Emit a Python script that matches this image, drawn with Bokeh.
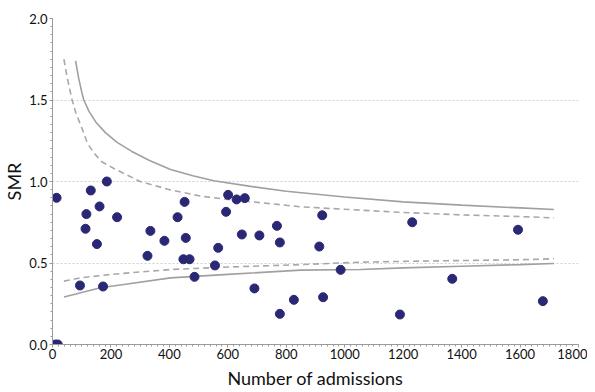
from bokeh.plotting import figure
from bokeh.models import FixedTicker, PrintfTickFormatter, Range1d, ColumnDataSource
from bokeh.embed import file_html
from bokeh.resources import INLINE

# ---- data ----
admissions = [10, 18, 14, 116, 113, 131, 186, 161, 152, 221, 94, 173, 325, 335, 383,
              428, 452, 456, 448, 469, 486, 556, 567, 594, 601, 630, 658, 648, 708,
              691, 768, 778, 778, 826, 923, 913, 926, 986, 1189, 1231, 1368, 1593, 1678]
smr = [0.0, 0.0, 0.90, 0.80, 0.71, 0.945, 1.0, 0.847, 0.616, 0.781, 0.362, 0.356, 0.544,
       0.697, 0.636, 0.781, 0.875, 0.654, 0.523, 0.523, 0.415, 0.485, 0.593, 0.814,
       0.918, 0.89, 0.898, 0.675, 0.669, 0.344, 0.728, 0.626, 0.188, 0.274, 0.793,
       0.601, 0.29, 0.458, 0.184, 0.75, 0.403, 0.704, 0.266]

# 99.8% limits (solid)
upper_998_x = [79, 90, 100, 107, 125, 150, 181, 221, 270, 330, 404, 480, 552, 678, 800,
               1000, 1200, 1400, 1600, 1716]
upper_998_y = [1.74, 1.63, 1.55, 1.50, 1.43, 1.36, 1.30, 1.24, 1.186, 1.13, 1.074, 1.035,
               1.005, 0.97, 0.94, 0.905, 0.875, 0.855, 0.838, 0.828]
lower_998_x = [39, 80, 164, 250, 404, 600, 849, 1054, 1200, 1400, 1600, 1716]
lower_998_y = [0.292, 0.31, 0.348, 0.37, 0.409, 0.43, 0.456, 0.46, 0.47, 0.48, 0.49, 0.497]

# 95% limits (dashed)
upper_95_x = [39, 50, 67, 80, 100, 119, 141, 170, 210, 300, 400, 507, 600, 849, 1054,
              1200, 1400, 1600, 1716]
upper_95_y = [1.75, 1.64, 1.50, 1.42, 1.33, 1.237, 1.176, 1.12, 1.08, 1.00, 0.95, 0.91,
              0.89, 0.845, 0.824, 0.81, 0.795, 0.785, 0.777]
lower_95_x = [39, 100, 200, 300, 404, 600, 849, 1054, 1200, 1400, 1600, 1716]
lower_95_y = [0.389, 0.41, 0.43, 0.445, 0.46, 0.475, 0.49, 0.505, 0.51, 0.515, 0.52, 0.526]

x_ticks = [0, 200, 400, 600, 800, 1000, 1200, 1400, 1600, 1800]
y_ticks = [0.0, 0.5, 1.0, 1.5, 2.0]
grid_lines = [0.5, 1.0, 1.5]

FONT = "Lato"

p = figure(frame_width=526, frame_height=326, output_backend="svg", toolbar_location=None,
           x_range=Range1d(0, 1800), y_range=Range1d(0, 2.0),
           min_border_left=44, min_border_right=9, min_border_top=18, min_border_bottom=39)
p.outline_line_color = None
p.background_fill_color = "white"

# limits
p.line(upper_998_x, upper_998_y, line_color="#a0a0a0", line_width=1.6)
p.line(lower_998_x, lower_998_y, line_color="#a0a0a0", line_width=1.6)
p.line(upper_95_x, upper_95_y, line_color="#a8a8a8", line_width=1.6, line_dash="6 4")
p.line(lower_95_x, lower_95_y, line_color="#a8a8a8", line_width=1.6, line_dash="6 4")

src = ColumnDataSource(dict(x=admissions, y=smr))
p.scatter("x", "y", source=src, size=9, fill_color="#2a2874", line_color="#2a2874")

# grids
p.xgrid.visible = False
p.ygrid.ticker = FixedTicker(ticks=grid_lines)
p.ygrid.grid_line_color = "#d0d0d0"
p.ygrid.grid_line_dash = "2 2"
p.ygrid.grid_line_width = 1

# axes
p.xaxis.ticker = FixedTicker(ticks=x_ticks, minor_ticks=list(range(0, 1801, 20)))
p.yaxis.ticker = FixedTicker(ticks=y_ticks, minor_ticks=[i * 0.05 for i in range(41)])
p.yaxis.formatter = PrintfTickFormatter(format="%.1f")

for ax in (p.xaxis[0], p.yaxis[0]):
    ax.axis_line_color = "#9a9a9a"
    ax.axis_line_width = 1
    ax.major_tick_line_color = "#9a9a9a"
    ax.minor_tick_line_color = "#9a9a9a"
    ax.major_tick_in = 0
    ax.major_tick_out = 3
    ax.minor_tick_in = 0
    ax.minor_tick_out = 2
    ax.major_label_text_font = FONT
    ax.major_label_text_font_size = "13px"
    ax.major_label_text_color = "#111111"
    ax.axis_label_text_font = FONT
    ax.axis_label_text_font_size = "18px"
    ax.axis_label_text_font_style = "normal"
    ax.axis_label_text_color = "#111111"

p.xaxis.axis_label = "Number of admissions"
p.yaxis.axis_label = "SMR"
p.xaxis.major_label_standoff = 1
p.yaxis.major_label_standoff = 2
p.xaxis.axis_label_standoff = 5
p.yaxis.axis_label_standoff = 1

open("out.html", "w").write(file_html(p, INLINE))
